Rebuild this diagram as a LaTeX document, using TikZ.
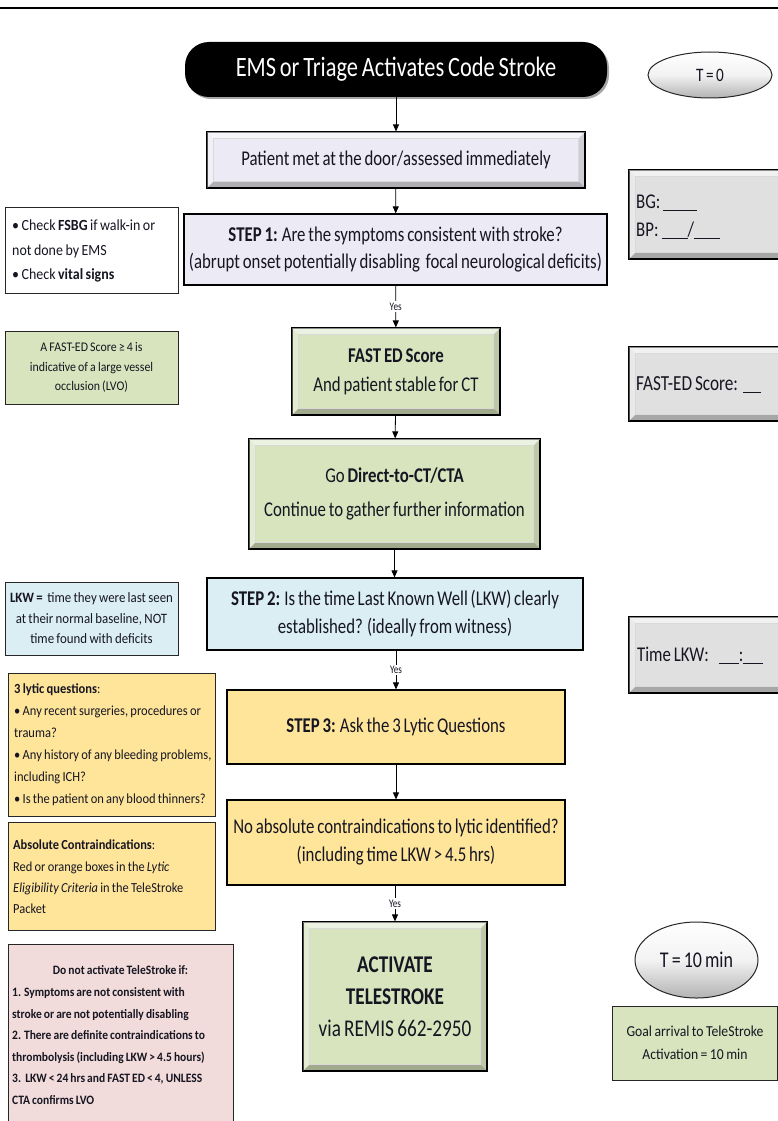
\documentclass[tikz,border=0pt]{standalone}
\usepackage{fontspec}
\setmainfont{Carlito}[FakeStretch=0.8,WordSpace=0.75]
\newfontfamily\notefont{Carlito}[FakeStretch=0.9,WordSpace=0.8]
\usetikzlibrary{arrows.meta,shapes.geometric}
\definecolor{txt}{RGB}{22,22,34}
\definecolor{lav}{RGB}{236,234,244}
\definecolor{grn}{RGB}{215,228,189}
\definecolor{lblue}{RGB}{219,238,244}
\definecolor{yel}{RGB}{255,229,153}
\definecolor{pink}{RGB}{242,220,219}
\definecolor{gryb}{RGB}{224,224,224}
\newcommand{\myfs}[2]{\fontsize{#1}{#2}\selectfont}
\newcommand{\nfs}[2]{\notefont\fontsize{#1}{#2}\selectfont}
\newcommand{\blank}[1]{\rule[-2.5pt]{#1}{1.1pt}}
\newcommand{\bvl}[2]{%
\fill[white,opacity=.55] (#1.north west) -- (#1.north east) -- ([shift={(-#2pt,-#2pt)}]#1.north east) -- ([shift={(#2pt,-#2pt)}]#1.north west) -- cycle;
\fill[white,opacity=.3] (#1.north west) -- ([shift={(#2pt,-#2pt)}]#1.north west) -- ([shift={(#2pt,#2pt)}]#1.south west) -- (#1.south west) -- cycle;
\fill[black,opacity=.25] (#1.south west) -- (#1.south east) -- ([shift={(-#2pt,#2pt)}]#1.south east) -- ([shift={(#2pt,#2pt)}]#1.south west) -- cycle;
\fill[black,opacity=.12] (#1.north east) -- (#1.south east) -- ([shift={(-#2pt,#2pt)}]#1.south east) -- ([shift={(-#2pt,-#2pt)}]#1.north east) -- cycle;
\draw[black!15,line width=.5pt] ([shift={(#2pt,-#2pt)}]#1.north west) rectangle ([shift={(-#2pt,#2pt)}]#1.south east);
\draw[black,line width=1.2pt] (#1.north west) rectangle (#1.south east);
}
\tikzset{
  box/.style={draw=black, line width=1.2pt, inner sep=0pt, align=center, text=txt},
  note/.style={draw=black!85, line width=1pt, inner sep=0pt, align=center, text=txt},
  ntext/.style={anchor=west, align=left, inner sep=0pt, text=txt},
  ell/.style={ellipse, draw=black!85, line width=1pt, top color=white, bottom color=gray!60, middle color=gray!10, inner sep=0pt, text=txt},
  arr/.style={-{Triangle[length=7pt,width=6pt]}, line width=0.8pt},
  yes/.style={fill=white, font=\myfs{11.5}{12}, inner sep=1.5pt, text=txt},
}
\begin{document}
\begin{tikzpicture}[x=1pt,y=-1pt]
\clip (0,0) rectangle (778,1121);
\fill[white] (0,0) rectangle (778,1121);
\draw[line width=1.5pt] (0,8) -- (778,8);

% title
\fill[black!35] (187,44) [rounded corners=24pt] rectangle (609,99);
\node[fill=black, rounded corners=24pt, minimum width=422pt, minimum height=55pt, text=white, inner sep=0pt, font=\myfs{28}{30}] (title) at (396,69.5) {EMS or Triage Activates Code Stroke};
\node[ell, minimum width=124pt, minimum height=46pt, font=\myfs{19}{20}] (t0) at (710,75) {T = 0};

% patient
\node[box, fill=lav, minimum width=378pt, minimum height=56pt, font=\myfs{21}{24}] (patient) at (396,160) {Patient met at the door/assessed immediately};
\bvl{patient}{7}

% BG/BP
\node[box, fill=gryb, minimum width=162pt, minimum height=89pt] (bg) at (710,214.5) {};
\bvl{bg}{7}
\node[ntext, font=\myfs{21}{28}] (bgt) at (636,217) {BG:\hspace{3pt}\blank{34pt}\\BP:\hspace{3pt}\blank{26pt}/\blank{26pt}};

% FSBG note
\node[note, fill=white, minimum width=173pt, minimum height=86pt] (fsbg) at (91.5,250) {};
\node[ntext, font=\nfs{15.5}{24.5}] (fsbgt) at (12,251) {• Check \textbf{FSBG} if walk-in or\\not done by EMS\\• Check \textbf{vital signs}};

% step 1
\node[box, fill=lav, minimum width=423pt, minimum height=71pt, font=\myfs{21}{27}] (step1) at (395.5,249.5) {\textbf{STEP 1:} Are the symptoms consistent with stroke?\\(abrupt onset potentially disabling\ \ focal neurological deficits)};

% FAST-ED note
\node[note, fill=grn, minimum width=173pt, minimum height=73pt, font=\nfs{13.2}{19.5}] (fastnote) at (91.5,367.5) {A FAST-ED Score ≥ 4 is\\indicative of a large vessel\\occlusion (LVO)};

% FAST ED
\node[box, fill=grn, minimum width=208pt, minimum height=87pt, font=\myfs{21}{29}] (fast) at (396,371.5) {\textbf{FAST ED Score}\\And patient stable for CT};
\bvl{fast}{7}

\node[box, fill=gryb, minimum width=162pt, minimum height=74pt] (fastscore) at (710,384) {};
\bvl{fastscore}{7}
\node[ntext, font=\myfs{21.5}{24}] (fst) at (636,385) {FAST-ED Score:\hspace{5pt}\blank{18pt}};

% CT
\node[box, fill=grn, minimum width=291pt, minimum height=110pt, font=\myfs{21}{34}] (ct) at (394.5,494) {Go \textbf{Direct-to-CT/CTA}\\Continue to gather further information};
\bvl{ct}{7}

% LKW note
\node[note, fill=lblue, minimum width=173pt, minimum height=73pt, font=\nfs{14.3}{20.5}] (lkwnote) at (91.5,618.5) {\textbf{LKW =}\ \ time they were last seen\\at their normal baseline, NOT\\time found with deficits};

% step 2
\node[box, fill=lblue, minimum width=376pt, minimum height=72pt, font=\myfs{21}{28}] (step2) at (395,614) {\textbf{STEP 2:} Is the time Last Known Well (LKW) clearly\\established? (ideally from witness)};

\node[box, fill=gryb, minimum width=162pt, minimum height=76pt] (timelkw) at (710,655) {};
\bvl{timelkw}{7}
\node[ntext, font=\myfs{21}{24}] (tlt) at (637,656) {Time LKW:\hspace{10pt}\blank{20pt}:\blank{20pt}};

% lytic note
\node[note, fill=yel, minimum width=207pt, minimum height=143pt] (lyticnote) at (111.5,744.5) {};
\node[ntext, font=\nfs{13.9}{22}] (lytict) at (14,745) {\textbf{3 lytic questions}:\\• Any recent surgeries, procedures or\\trauma?\\• Any history of any bleeding problems,\\including ICH?\\• Is the patient on any blood thinners?};

% step 3
\node[box, fill=yel, minimum width=338pt, minimum height=74pt, font=\myfs{21}{24}] (step3) at (396,727) {\textbf{STEP 3:} Ask the 3 Lytic Questions};

% absolute note
\node[note, fill=yel, minimum width=207pt, minimum height=108pt] (absnote) at (111.5,876) {};
\node[ntext, font=\nfs{13.8}{21.3}] (abst) at (13,877) {\textbf{Absolute Contraindications}:\\Red or orange boxes in the \textit{Lytic}\\\textit{Eligibility Criteria} in the TeleStroke\\Packet};

% contraindications
\node[box, fill=yel, minimum width=338pt, minimum height=85pt, font=\myfs{21}{28}] (contra) at (396,842.5) {No absolute contraindications to lytic identified?\\(including time LKW > 4.5 hrs)};

% do not activate
\node[note, fill=pink, minimum width=225pt, minimum height=186pt, anchor=north west] (donot) at (8,944) {};
\node[inner sep=0pt, text=txt, font=\nfs{12.8}{16}\bfseries] (donoth) at (120.5,970) {Do not activate TeleStroke if:};
\node[ntext, font=\nfs{12.8}{21.6}\bfseries] (donott) at (12,1046) {1. Symptoms are not consistent with\\stroke or are not potentially disabling\\2. There are definite contraindications to\\thrombolysis (including LKW > 4.5 hours)\\3.\ \ LKW < 24 hrs and FAST ED < 4, UNLESS\\CTA confirms LVO};

% activate
\node[box, fill=grn, minimum width=184pt, minimum height=149pt, font=\myfs{24}{32}] (activate) at (395,996.5) {\textbf{ACTIVATE}\\\textbf{TELESTROKE}\\via REMIS 662-2950};
\bvl{activate}{7}

\node[ell, minimum width=123pt, minimum height=76pt, font=\myfs{22.5}{24}] (t10) at (696.5,960) {T = 10 min};
\node[note, fill=grn, minimum width=165pt, minimum height=74pt, font=\nfs{15.2}{23}] (goal) at (695,1043) {Goal arrival to TeleStroke\\Activation = 10 min};

% connectors
\draw[arr] (title) -- (patient);
\draw[arr] (patient) -- (step1);
\draw[arr] (step1) -- node[yes] {Yes} (fast);
\draw[arr] (fast) -- (ct);
\draw[arr] (ct.south) -- (step2.north -| ct.south);
\draw[arr] (step2.south -| step3.north) -- node[yes] {Yes} (step3);
\draw[arr] (step3) -- (contra);
\draw[arr] (contra.south -| activate.north) -- node[yes] {Yes} (activate);
\end{tikzpicture}
\end{document}
